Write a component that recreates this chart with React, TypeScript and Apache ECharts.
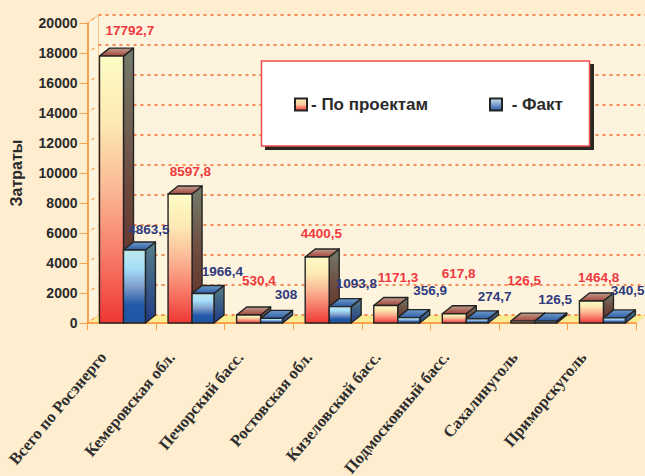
import React, { useEffect, useRef } from "react";
import * as echarts from "echarts";

const categories = ["Всего по Росэнерго", "Кемеровская обл.", "Печорский басс.", "Ростовская обл.", "Кизеловский басс.", "Подмосковный басс.", "Сахалинуголь", "Приморскуголь"];
const planned = [17792.7, 8597.8, 530.4, 4400.5, 1171.3, 617.8, 126.5, 1464.8];
const actual = [4863.5, 1966.4, 308, 1093.8, 356.9, 274.7, 126.5, 340.5];
const gridTicks = [0, 2000, 4000, 6000, 8000, 10000, 12000, 14000, 16000, 18000, 20000];
const plannedName = "По проектам";
const actualName = "Факт";
const axisTitle = "Затраты";

// label offsets from each bar's centre/top, in px
const plannedLabelOffset = [[8, -26], [0, -23], [0, -35], [-6, -23], [2, -28], [-6, -40], [-9, -41], [-3, -24]];
const actualLabelOffset = [[27, -21], [32, -22], [27, -24], [29, -23], [34, -27], [30, -22], [22, -22], [26, -27]];

const DX = 10, DY = 8, BACK_X = 11, BACK_Y = 8;
const grad = (stops: string[], x2 = 0, y2 = 1) =>
  new echarts.graphic.LinearGradient(0, 0, x2, y2, stops.map((color, i) => ({ offset: i / (stops.length - 1), color })));

const redFront = () => grad(["#FEFCC6", "#FDE9B4", "#FBB896", "#F77A68", "#EF3734"]);
const blueFront = () => grad(["#BFE6EA", "#A6DFF9", "#7F9FCB", "#2259A8", "#1F55A3"]);

const bar3d = (fronts: () => any, side: () => any, top: () => any, l: number, r: number) =>
  (params: any, api: any) => {
    const i = api.value(0), v = api.value(1);
    const band = api.size([1, 0])[0];
    const c = api.coord([i, v]);
    const base = api.coord([i, 0]);
    const x0 = c[0] + l * band, x1 = c[0] + r * band;
    const y0 = c[1], yb = base[1];
    const stroke = { stroke: "#242424", lineWidth: 1.4, lineJoin: "round" };
    return {
      type: "group",
      children: [
        { type: "polygon", shape: { points: [[x1, y0], [x1 + DX, y0 - DY], [x1 + DX, yb - DY], [x1, yb]] }, style: { fill: side(), ...stroke } },
        { type: "polygon", shape: { points: [[x0, y0], [x0 + DX, y0 - DY], [x1 + DX, y0 - DY], [x1, y0]] }, style: { fill: top(), ...stroke } },
        { type: "rect", shape: { x: x0, y: y0, width: x1 - x0, height: yb - y0 }, style: { fill: fronts(), ...stroke } },
      ],
    };
  };

const labelSeries = (values: number[], offsets: number[][], color: string) => ({
  type: "custom",
  silent: true,
  z: 5,
  clip: false,
  data: values.map((v, i) => [i, v]),
  renderItem: (params: any, api: any) => {
    const i = api.value(0), v = api.value(1);
    const c = api.coord([i, v]);
    const o = offsets[params.dataIndex];
    return {
      type: "text",
      style: {
        x: c[0] + o[0], y: c[1] + o[1],
        text: String(v).replace(".", ","),
        fill: color,
        font: 'bold 13.5px "Liberation Sans"',
        align: "center", verticalAlign: "middle",
      },
    };
  },
});

export default function App() {
  const ref = useRef<HTMLDivElement>(null);
  useEffect(() => {
    const chart = echarts.init(ref.current!, null, { renderer: "svg" });
    const redItem = { color: grad(["#FEF4C0", "#FBC89A", "#EF3734"]), borderColor: "#242424", borderWidth: 1 };
    const blueItem = { color: grad(["#BFE6EA", "#7F9FCB", "#1F55A3"]), borderColor: "#242424", borderWidth: 1 };
    const legendText = { color: "#2B2B2B", fontFamily: "Liberation Sans", fontWeight: "bold", fontSize: 17 };
    chart.setOption({
      animation: false,
      backgroundColor: "#FEEDCF",
      grid: { left: 87.5, right: 9, top: 23, bottom: 153, outerBoundsMode: "none", containLabel: false },
      legend: [
        { icon: "rect", left: 294, top: 96, padding: 0, itemWidth: 12, itemHeight: 12, itemGap: 0, z: 10, data: [plannedName], formatter: "- {name}", textStyle: { ...legendText, padding: [0, 0, 0, -1] } },
        { icon: "rect", left: 489, top: 96, padding: 0, itemWidth: 12, itemHeight: 12, itemGap: 0, z: 10, data: [actualName], formatter: " - {name}", textStyle: { ...legendText, padding: [0, 0, 0, 0] } },
      ],
      graphic: [
        { type: "rect", z: 8, shape: { x: 265, y: 64, width: 329, height: 86 }, style: { fill: "#2A2622" } },
        { type: "rect", z: 9, shape: { x: 261.5, y: 61, width: 328, height: 85 }, style: { fill: "#FFFFFF", stroke: "#EE4B4B", lineWidth: 1.5 } },
      ],
      xAxis: {
        type: "category",
        data: categories,
        boundaryGap: true,
        axisLine: { lineStyle: { color: "#F8A24E", width: 2 } },
        axisTick: { show: true, length: 7, lineStyle: { color: "#F8A24E" } },
        axisLabel: {
          interval: 0, rotate: 50, margin: 9,
          fontFamily: "Liberation Serif", fontWeight: "bold", fontSize: 16.5, color: "#2D2D2D",
          padding: [0, 29, 0, 0],
        },
      },
      yAxis: {
        type: "value", min: 0, max: 20000, interval: 2000,
        name: axisTitle, nameLocation: "middle", nameRotate: 90, nameGap: 63,
        nameTextStyle: { fontFamily: "Liberation Sans", fontWeight: "bold", fontSize: 16, color: "#2B2B2B" },
        axisLine: { show: true, lineStyle: { color: "#F8A24E", width: 2 } },
        axisTick: { show: true, length: 8, lineStyle: { color: "#F8A24E" } },
        axisLabel: { margin: 10, formatter: (v: number) => String(v), fontFamily: "Liberation Sans", fontWeight: "bold", fontSize: 14, color: "#2B2B2B" },
        splitLine: { show: false },
      },
      series: [
        {
          type: "custom", silent: true, z: 0, clip: false,
          data: [[0, 20000]],
          renderItem: (params: any, api: any) => {
            const [l, t] = api.coord([0, 20000]);
            const size = api.size([1, 0])[0];
            const left = l - size / 2;
            const right = left + size * categories.length;
            const b = api.coord([0, 0])[1];
            return {
              type: "group",
              children: [
                { type: "polygon", shape: { points: [[left, t], [left + BACK_X, t - BACK_Y], [right + BACK_X, t - BACK_Y], [right + BACK_X, b - BACK_Y], [left + BACK_X, b - BACK_Y], [left, b]] }, style: { fill: "#FEF4DE" } },
                { type: "polygon", shape: { points: [[left, b], [left + BACK_X, b - BACK_Y], [right + BACK_X, b - BACK_Y], [right, b]] }, style: { fill: "#F9EC93" } },
                { type: "polyline", shape: { points: [[left, t], [left + BACK_X, t - BACK_Y], [left + BACK_X, b - BACK_Y], [left, b]] }, style: { stroke: "#FBC58E", lineWidth: 1, fill: "none" } },
              ],
            };
          },
        },
        {
          type: "custom", silent: true, z: 1, clip: false,
          data: gridTicks.map((v) => [0, v]),
          renderItem: (params: any, api: any) => {
            const v = api.value(1);
            const [cx, y] = api.coord([0, v]);
            const size = api.size([1, 0])[0];
            const left = cx - size / 2;
            const right = left + size * categories.length;
            const dash = { stroke: "#F4682F", lineWidth: 1.6, lineDash: [3, 4] };
            return {
              type: "group",
              children: [
                { type: "line", shape: { x1: left + BACK_X, y1: y - BACK_Y, x2: right + BACK_X, y2: y - BACK_Y }, style: dash },
                { type: "line", shape: { x1: left + 4, y1: y - 3, x2: left + 7, y2: y - 5 }, style: { stroke: "#F8A24E", lineWidth: 1.4 } },
              ],
            };
          },
        },
        {
          name: plannedName, type: "custom", z: 3, clip: false, itemStyle: redItem,
          data: planned.map((v, i) => [i, v]),
          renderItem: bar3d(redFront, () => grad(["#747C6C", "#6E4A3E", "#5E2A26"]), () => grad(["#BC9E8C", "#A8443C"]), -0.325, 0.025),
        },
        {
          name: actualName, type: "custom", z: 4, clip: false, itemStyle: blueItem,
          data: actual.map((v, i) => [i, v]),
          renderItem: bar3d(blueFront, () => grad(["#577F88", "#203A86"]), () => grad(["#6C9AC8", "#2F5DA8"]), 0.025, 0.345),
        },
        labelSeries(planned, plannedLabelOffset, "#EE3A3F"),
        labelSeries(actual, actualLabelOffset, "#2F3A7C"),
      ],
    });
    return () => chart.dispose();
  }, []);
  return <div ref={ref} style={{ position: "absolute", left: 0, top: 0, width: 645, height: 476 }} />;
}
